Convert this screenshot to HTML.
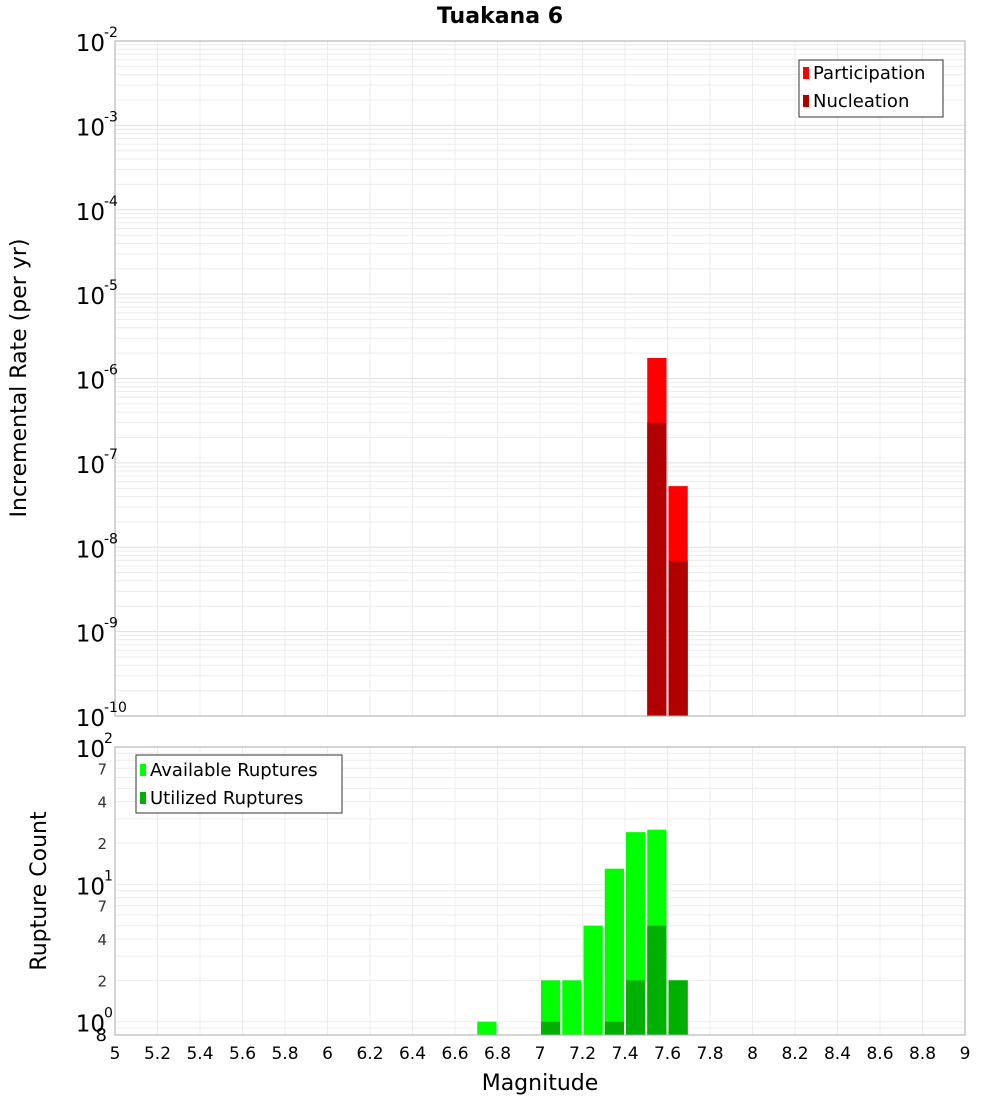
<!DOCTYPE html>
<html><head><meta charset="utf-8"><style>
body{margin:0;background:#fff;font-family:"DejaVu Sans","Liberation Sans",sans-serif}
</style></head><body>
<svg id="c" width="1000" height="1100" xmlns="http://www.w3.org/2000/svg" font-family="DejaVu Sans, Liberation Sans, sans-serif"></svg>
<script>
const binStarts=[6.7,7.0,7.1,7.2,7.3,7.4,7.5,7.6];
const available=[1,2,2,5,13,24,25,2];
const utilized=[0,1,0,0,1,2,5,2];
const rateBins=[7.5,7.6];
const participation=[1.75e-6,5.3e-8];
const nucleation=[3.0e-7,6.9e-9];
const xTicks=[5,5.2,5.4,5.6,5.8,6,6.2,6.4,6.6,6.8,7,7.2,7.4,7.6,7.8,8,8.2,8.4,8.6,8.8,9];
const topDecades=[-10,-9,-8,-7,-6,-5,-4,-3,-2];
const botDecades=[0,1,2];
const botMinorLabels=[2,4,7];

const svg=document.getElementById('c');const NS='http://www.w3.org/2000/svg';
function el(t,a,p){const e=document.createElementNS(NS,t);for(const k in a)e.setAttribute(k,a[k]);(p||svg).appendChild(e);return e;}
const X0=115,X1=965;
const xs=m=>X0+(m-5)/4*(X1-X0);
const T0=41,T1=716,yt=v=>T1-(Math.log10(v)+10)/8*(T1-T0);
const B0=747,B1=1035,bmin=Math.log10(0.8),yb=v=>B1-(Math.log10(v)-bmin)/(2-bmin)*(B1-B0);

let t=el('text',{x:500,y:23,'text-anchor':'middle','font-size':22,'font-weight':'bold'});t.textContent='Tuakana 6';


// top panel
let g=el('g',{});
el('rect',{x:X0,y:T0,width:X1-X0,height:T1-T0,fill:'#fff'},g);
for(let d=-10;d<-2;d++)for(let k=1;k<10;k++){const y=yt(k*Math.pow(10,d));el('line',{x1:X0,x2:X1,y1:y,y2:y,stroke:k==1?'#e0e0e0':'#ececec','stroke-width':1},g);}
xTicks.forEach(m=>{const x=xs(m);el('line',{x1:x,x2:x,y1:T0,y2:T1,stroke:'#ececec'},g);});
rateBins.forEach((m,i)=>{
 const x=xs(m)+1,w=xs(m+0.1)-xs(m)-2;
 let r=el('rect',{x:x,y:yt(participation[i]),width:w,height:T1-yt(participation[i]),fill:'#ff0000'},g);
 
 r=el('rect',{x:x,y:yt(nucleation[i]),width:w,height:T1-yt(nucleation[i]),fill:'#b00000'},g);
 
});
el('rect',{x:X0,y:T0,width:X1-X0,height:T1-T0,fill:'none',stroke:'#aaa'},g);
topDecades.forEach(d=>{const y=yt(Math.pow(10,d));
 let tx=el('text',{x:105,y:y+10,'text-anchor':'end','font-size':23},g);tx.textContent='10';
 let s=el('text',{x:104,y:y-4,'font-size':14},g);s.textContent=String(d);});
let lg=el('g',{});
el('rect',{x:799,y:60,width:144,height:57,fill:'#fff',stroke:'#333'},lg);
el('rect',{x:803,y:67,width:6,height:12,fill:'#ff0000'},lg);
el('rect',{x:803,y:95,width:6,height:12,fill:'#b00000'},lg);
t=el('text',{x:813,y:79,'font-size':18},lg);t.textContent='Participation';
t=el('text',{x:813,y:107,'font-size':18},lg);t.textContent='Nucleation';
t=el('text',{x:0,y:0,'font-size':22,'text-anchor':'middle',transform:'translate(26,378) rotate(-90)'});t.textContent='Incremental Rate (per yr)';


// bottom panel
g=el('g',{});
el('rect',{x:X0,y:B0,width:X1-X0,height:B1-B0,fill:'#fff'},g);
for(let d=-1;d<2;d++)for(let k=1;k<10;k++){const v=k*Math.pow(10,d);if(v<0.8)continue;const y=yb(v);el('line',{x1:X0,x2:X1,y1:y,y2:y,stroke:'#ececec'},g);}
xTicks.forEach(m=>{const x=xs(m);el('line',{x1:x,x2:x,y1:B0,y2:B1,stroke:'#ececec'},g);});
binStarts.forEach((m,i)=>{
 const x=xs(m)+1,w=xs(m+0.1)-xs(m)-2;
 let r=el('rect',{x:x,y:yb(available[i]),width:w,height:B1-yb(available[i]),fill:'#00ff00'},g);
 
 if(utilized[i]>0){r=el('rect',{x:x,y:yb(utilized[i]),width:w,height:B1-yb(utilized[i]),fill:'#00b000'},g);
 }
});
el('rect',{x:X0,y:B0,width:X1-X0,height:B1-B0,fill:'none',stroke:'#aaa'},g);
botDecades.forEach(d=>{const y=yb(Math.pow(10,d));
 let tx=el('text',{x:105,y:y+10,'text-anchor':'end','font-size':23},g);tx.textContent='10';
 let s=el('text',{x:104,y:y-4,'font-size':14},g);s.textContent=String(d);
 if(d<2)botMinorLabels.forEach(k=>{const yy=yb(k*Math.pow(10,d));let m=el('text',{x:107,y:yy+6,'text-anchor':'end','font-size':15,fill:'#333'},g);m.textContent=String(k);});});
t=el('text',{x:107,y:1041,'text-anchor':'end','font-size':18},g);t.textContent='8';
lg=el('g',{});
el('rect',{x:136,y:755,width:206,height:58,fill:'#fff',stroke:'#333'},lg);
el('rect',{x:140,y:764,width:6,height:12,fill:'#00ff00'},lg);
el('rect',{x:140,y:792,width:6,height:12,fill:'#00b000'},lg);
t=el('text',{x:150,y:776,'font-size':18},lg);t.textContent='Available Ruptures';
t=el('text',{x:150,y:804,'font-size':18},lg);t.textContent='Utilized Ruptures';
t=el('text',{x:0,y:0,'font-size':22,'text-anchor':'middle',transform:'translate(46,891) rotate(-90)'});t.textContent='Rupture Count';


xTicks.forEach(m=>{let tx=el('text',{x:xs(m),y:1059,'text-anchor':'middle','font-size':17});tx.textContent=String(m);
 });
t=el('text',{x:540,y:1090,'text-anchor':'middle','font-size':22});t.textContent='Magnitude';

</script></body></html>
